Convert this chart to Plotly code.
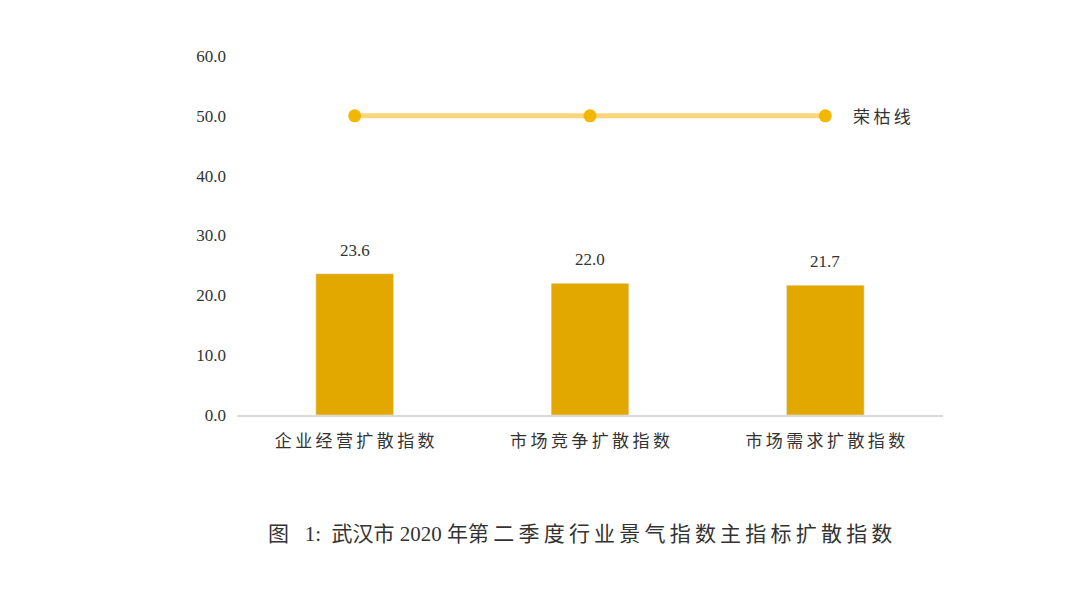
import plotly.graph_objects as go

categories = ['企业经营扩散指数', '市场竞争扩散指数', '市场需求扩散指数']
values = [23.6, 22.0, 21.7]
boom_line = [50.0, 50.0, 50.0]
tick_vals = [0, 10, 20, 30, 40, 50, 60]
tick_text = ['0.0', '10.0', '20.0', '30.0', '40.0', '50.0', '60.0']

serif = 'Liberation Serif, Noto Sans CJK SC'
spaced = lambda s: '\u2009'.join(s)

fig = go.Figure()
fig.add_trace(go.Bar(
    x=categories, y=values, width=0.33,
    marker_color='#E2A800', showlegend=False,
))
for c, v in zip(categories, values):
    fig.add_annotation(x=c, y=v, text=f'{v:.1f}', showarrow=False,
                       yanchor='bottom', yshift=12,
                       font=dict(family=serif, size=17, color='#333'))
fig.add_trace(go.Scatter(
    x=categories, y=boom_line, mode='lines+markers',
    line=dict(color='#FFD57A', width=5),
    marker=dict(color='#F2B800', size=13),
    showlegend=False,
))
fig.add_annotation(x=1, xref='paper', xanchor='left', xshift=-92, y=50,
                   text=spaced('荣枯线'), showarrow=False,
                   font=dict(family='Noto Sans CJK SC', size=17, color='#333'))
fig.add_annotation(x=0.5, xref='paper', xshift=-10, y=-0.37, yref='paper',
                   text='图\u2002 1:\u2002武汉市 2020 年' + spaced('第二季度行业景气指数主指标扩散指数'),
                   showarrow=False,
                   font=dict(family=serif, size=21, color='#333'))

fig.update_layout(
    width=1080, height=597,
    margin=dict(l=229, r=145, t=48, b=190),
    plot_bgcolor='white', paper_bgcolor='white',
    xaxis=dict(showline=True, linecolor='#d9d9d9', linewidth=1.5, ticks='',
               ticklabelstandoff=10,
               tickvals=categories, ticktext=[spaced(c) for c in categories],
               tickfont=dict(family='Noto Sans CJK SC', size=17, color='#333')),
    yaxis=dict(range=[0, 60], tickvals=tick_vals, ticktext=tick_text,
               showgrid=False, zeroline=False, ticklabelstandoff=10,
               tickfont=dict(family=serif, size=17, color='#333')),
)

fig.write_html('out.html')
